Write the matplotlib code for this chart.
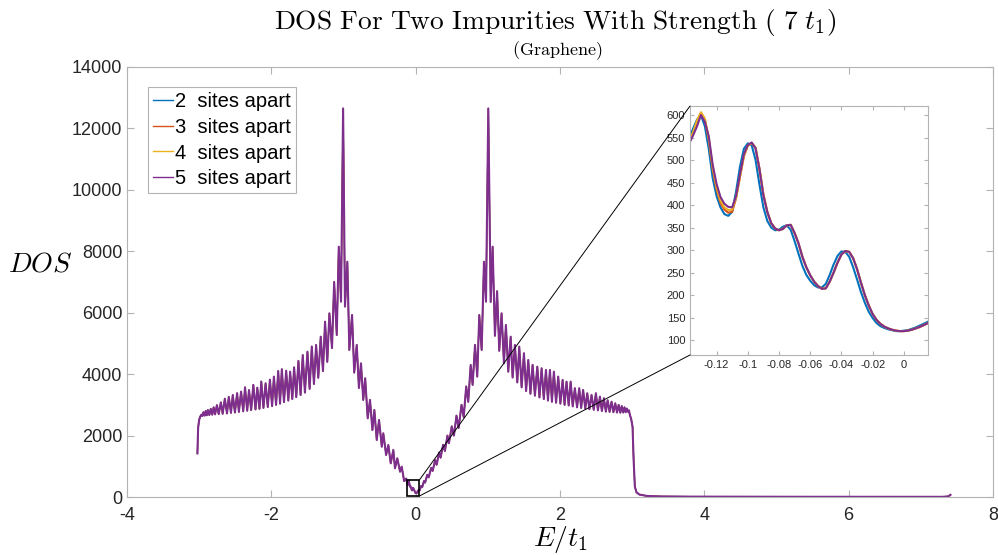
import matplotlib
matplotlib.use("Agg")
import matplotlib.pyplot as plt
from matplotlib.patches import Rectangle, ConnectionPatch

# DOS curve (E/t1, DOS)
main_e = [
    -3.025, -3.015, -3.0, -2.985, -2.97, -2.955, -2.94, -2.925, -2.91, -2.895,
    -2.88, -2.86, -2.84, -2.82, -2.80, -2.78, -2.755, -2.73, -2.70, -2.675,
    -2.645, -2.615, -2.59, -2.56, -2.535, -2.505, -2.475, -2.45, -2.42, -2.39,
    -2.365, -2.335, -2.31, -2.28, -2.25, -2.22, -2.195, -2.165, -2.14, -2.11,
    -2.08, -2.05, -2.02, -1.99, -1.965, -1.935, -1.905, -1.88, -1.855, -1.825,
    -1.795, -1.765, -1.74, -1.71, -1.685, -1.655, -1.625, -1.595, -1.565, -1.535,
    -1.50, -1.47, -1.44, -1.41, -1.38, -1.35, -1.316, -1.285, -1.256, -1.225,
    -1.196, -1.16, -1.13, -1.094, -1.066, -1.035, -1.006, -0.98, -0.947, -0.92,
    -0.882, -0.852, -0.817, -0.787, -0.758, -0.727, -0.70, -0.665, -0.633, -0.60,
    -0.573, -0.54, -0.508, -0.47, -0.449, -0.41, -0.379, -0.346, -0.31, -0.287,
    -0.255, -0.217, -0.194, -0.16, -0.131, -0.112, -0.097, -0.08, -0.073, -0.052,
    -0.036, 0.0, 0.02, 0.04, 0.055, 0.075, 0.09, 0.115, 0.13, 0.16,
    0.18, 0.215, 0.235, 0.27, 0.29, 0.325, 0.345, 0.38, 0.405, 0.44,
    0.46, 0.50, 0.53, 0.565, 0.595, 0.635, 0.665, 0.70, 0.728, 0.762,
    0.789, 0.822, 0.853, 0.881, 0.914, 0.946, 0.974, 1.006, 1.039, 1.066,
    1.098, 1.128, 1.158, 1.19, 1.223, 1.25, 1.283, 1.316, 1.343, 1.375,
    1.408, 1.435, 1.468, 1.50, 1.53, 1.56, 1.59, 1.62, 1.652, 1.685,
    1.715, 1.745, 1.775, 1.805, 1.833, 1.86, 1.888, 1.915, 1.945, 1.975,
    2.005, 2.036, 2.063, 2.09, 2.12, 2.147, 2.176, 2.206, 2.236, 2.266,
    2.293, 2.32, 2.35, 2.377, 2.407, 2.437, 2.467, 2.497, 2.525, 2.553,
    2.58, 2.608, 2.635, 2.66, 2.687, 2.714, 2.74, 2.765, 2.79, 2.812,
    2.835, 2.855, 2.875, 2.893, 2.91, 2.925, 2.94, 2.955, 2.968, 2.985,
    3.005, 3.02, 3.037, 3.06, 3.1, 3.2, 3.4, 3.8, 4.5, 5.5,
    6.5, 7.3, 7.38, 7.41,
]
main_dos = [
    1420, 2250, 2520, 2620, 2680, 2640, 2760, 2650, 2800, 2660,
    2830, 2670, 2870, 2680, 2920, 2690, 2990, 2700, 3080, 2710,
    3200, 2720, 3260, 2740, 3320, 2750, 3380, 2770, 3430, 2790,
    3570, 2810, 3480, 2830, 3650, 2850, 3560, 2870, 3760, 2900,
    3700, 2930, 3820, 2960, 3920, 3000, 4100, 3040, 4160, 3090,
    4110, 3140, 4080, 3190, 4220, 3250, 4430, 3320, 4620, 3400,
    4730, 3520, 4900, 3680, 4950, 3880, 5220, 4100, 5710, 4400,
    5980, 4850, 7000, 5275, 8150, 6360, 12650, 6200, 7660, 4787,
    5926, 4050, 4950, 3550, 4350, 3160, 3865, 2562, 3160, 2180,
    2833, 1856, 2507, 1638, 2073, 1368, 1693, 1097, 1530, 935,
    1260, 824, 987, 520, 600, 390, 539, 344, 356, 214,
    298, 120, 140, 230, 215, 360, 320, 520, 470, 720,
    640, 950, 850, 1200, 1050, 1450, 1280, 1700, 1500, 2000,
    1750, 2300, 2000, 2650, 2250, 3000, 2600, 3600, 3100, 4298,
    3650, 4950, 3920, 5926, 4787, 7660, 6360, 12650, 6350, 8150,
    5250, 6700, 4760, 5980, 4350, 5600, 4080, 5220, 3890, 4950,
    3730, 4894, 3570, 4680, 3450, 4460, 3360, 4300, 3300, 4243,
    3240, 4190, 3190, 4135, 3140, 4135, 3100, 4080, 3070, 3920,
    3040, 3810, 3000, 3755, 2980, 3755, 2950, 3540, 2920, 3540,
    2900, 3484, 2880, 3376, 2860, 3321, 2840, 3376, 2820, 3266,
    2800, 3214, 2780, 3150, 2770, 3103, 2760, 3050, 2750, 3000,
    2745, 2960, 2750, 2920, 2760, 2880, 2780, 2820, 2670, 2550,
    2290, 1205, 335, 150, 80, 35, 18, 12, 9, 7,
    6, 6, 20, 70,
]

# zoomed region near E = 0, one curve per impurity separation
inset_e = [
    -0.1375, -0.135, -0.1325, -0.130, -0.1275, -0.125, -0.1225, -0.120, -0.1175, -0.115,
    -0.1125, -0.110, -0.1075, -0.105, -0.1025, -0.100, -0.0975, -0.095, -0.0925, -0.090,
    -0.0875, -0.085, -0.0825, -0.080, -0.0775, -0.075, -0.0725, -0.070, -0.0675, -0.065,
    -0.0625, -0.060, -0.0575, -0.055, -0.0525, -0.050, -0.0475, -0.045, -0.0425, -0.040,
    -0.0375, -0.035, -0.0325, -0.030, -0.0275, -0.025, -0.0225, -0.020, -0.0175, -0.015,
    -0.0125, -0.010, -0.0075, -0.005, -0.0025, 0.0, 0.0025, 0.005, 0.0075, 0.010,
    0.0125, 0.015, 0.0155,
]
dos_2 = [
    548, 570, 590, 600, 575, 525, 460, 420, 395, 380,
    376, 385, 430, 485, 525, 537, 533, 500, 445, 395,
    365, 350, 344, 345, 352, 355, 345, 320, 292, 265,
    245, 232, 222, 217, 217, 225, 245, 268, 287, 297,
    296, 285, 262, 235, 207, 183, 163, 149, 138, 131,
    127, 124, 122, 120, 120, 121, 122, 125, 128, 132,
    136, 140, 141,
]
dos_3 = [
    540, 560, 585, 605, 590, 545, 480, 435, 405, 390,
    383, 385, 415, 462, 508, 532, 538, 527, 480, 424,
    385, 360, 348, 344, 347, 355, 356, 338, 315, 285,
    262, 244, 230, 220, 214, 215, 230, 250, 272, 290,
    298, 296, 282, 258, 228, 200, 177, 158, 145, 136,
    130, 126, 123, 121, 120, 120, 121, 123, 126, 129,
    133, 137, 138,
]
dos_4 = [
    542, 562, 588, 606, 592, 548, 485, 440, 410, 395,
    389, 390, 417, 463, 509, 532, 538, 527, 480, 424,
    385, 360, 348, 344, 347, 355, 356, 338, 315, 285,
    262, 244, 230, 220, 214, 215, 230, 250, 272, 290,
    298, 296, 282, 258, 228, 200, 177, 158, 145, 136,
    130, 126, 123, 121, 120, 120, 121, 123, 126, 129,
    133, 137, 138,
]
dos_5 = [
    537, 555, 575, 600, 585, 553, 490, 447, 418, 403,
    396, 395, 420, 468, 513, 533, 539, 526, 480, 422,
    385, 360, 348, 344, 347, 355, 356, 338, 315, 285,
    262, 244, 230, 220, 214, 215, 230, 250, 272, 290,
    298, 296, 282, 258, 228, 200, 177, 158, 145, 136,
    130, 126, 123, 121, 120, 120, 121, 123, 126, 129,
    133, 137, 138,
]

labels = ["2  sites apart", "3  sites apart", "4  sites apart", "5  sites apart"]
colors = ["#0072BD", "#D95319", "#EDB120", "#7E2F8E"]
inset_series = [dos_2, dos_3, dos_4, dos_5]

plt.rcParams["font.family"] = ["Liberation Sans", "DejaVu Sans"]
plt.rcParams["mathtext.fontset"] = "cm"
plt.rcParams["axes.unicode_minus"] = False

axis_grey = "#b3b3b3"
text_grey = "#262626"

fig = plt.figure(figsize=(9.98, 5.55), dpi=100)
ax = fig.add_axes([0.1273, 0.1045, 0.8677, 0.7748])

# the four curves overlap at this scale, purple ends up on top
for lab, col in zip(labels, colors):
    lw = 1.5 if col == colors[-1] else 0.9
    ax.plot(main_e, main_dos, color=col, lw=lw, label=lab)

ax.set_xlim(-4, 8)
ax.set_ylim(0, 14000)
ax.set_xticks(range(-4, 9, 2))
ax.set_yticks(range(0, 14001, 2000))
ax.tick_params(direction="in", top=True, right=True, labelsize=13,
               colors=axis_grey, labelcolor=text_grey, length=5)
ax.tick_params(axis="x", pad=7)
for s in ax.spines.values():
    s.set_color(axis_grey)

ax.set_xlabel(r"$E/t_1$", fontsize=20, labelpad=0)
ax.set_ylabel(r"$DOS$", fontsize=20, rotation=0)
ax.yaxis.set_label_coords(-0.1, 0.51)

leg = ax.legend(loc="upper left", bbox_to_anchor=(0.024, 0.953), fontsize=14.5,
                handlelength=1.0, handletextpad=0.1, borderpad=0.25,
                labelspacing=0.33, fancybox=False, framealpha=1,
                borderaxespad=0)
leg.get_frame().set_edgecolor(axis_grey)
leg.get_frame().set_linewidth(0.8)
for h in leg.get_lines():
    h.set_linewidth(1.0)

fig.text(0.556, 0.96,
         r"$\mathrm{DOS\ For\ Two\ Impurities\ With\ Strength\ (\ 7\ }t_1\mathrm{)}$",
         ha="center", va="center", fontsize=19.8)
fig.text(0.5585, 0.908, r"$\mathrm{(Graphene)}$", ha="center", va="center", fontsize=13)

# box marking the zoomed region
ax.add_patch(Rectangle((-0.125, 30), 0.175, 520, fill=False, ec="black", lw=1.2, zorder=5))

# inset
axin = fig.add_axes([0.6914, 0.3604, 0.2385, 0.4486])
for dos, col in zip(inset_series, colors):
    axin.plot(inset_e, dos, color=col, lw=1.5)
axin.set_xlim(-0.137, 0.0155)
axin.set_ylim(67, 620)
axin.set_xticks([-0.12, -0.1, -0.08, -0.06, -0.04, -0.02, 0])
axin.set_xticklabels(["-0.12", "-0.1", "-0.08", "-0.06", "-0.04", "-0.02", "0"])
axin.set_yticks(range(100, 601, 50))
axin.tick_params(direction="in", top=True, right=True, labelsize=8,
                 colors=axis_grey, labelcolor=text_grey, length=3)
for s in axin.spines.values():
    s.set_color(axis_grey)

# lines from the box to the inset corners
for yb, yi in [(550, 1), (30, 0)]:
    con = ConnectionPatch(xyA=(0.05, yb), coordsA=ax.transData,
                          xyB=(0, yi), coordsB=axin.transAxes,
                          color="black", lw=0.7)
    fig.add_artist(con)

plt.savefig("out.png", dpi=100)
